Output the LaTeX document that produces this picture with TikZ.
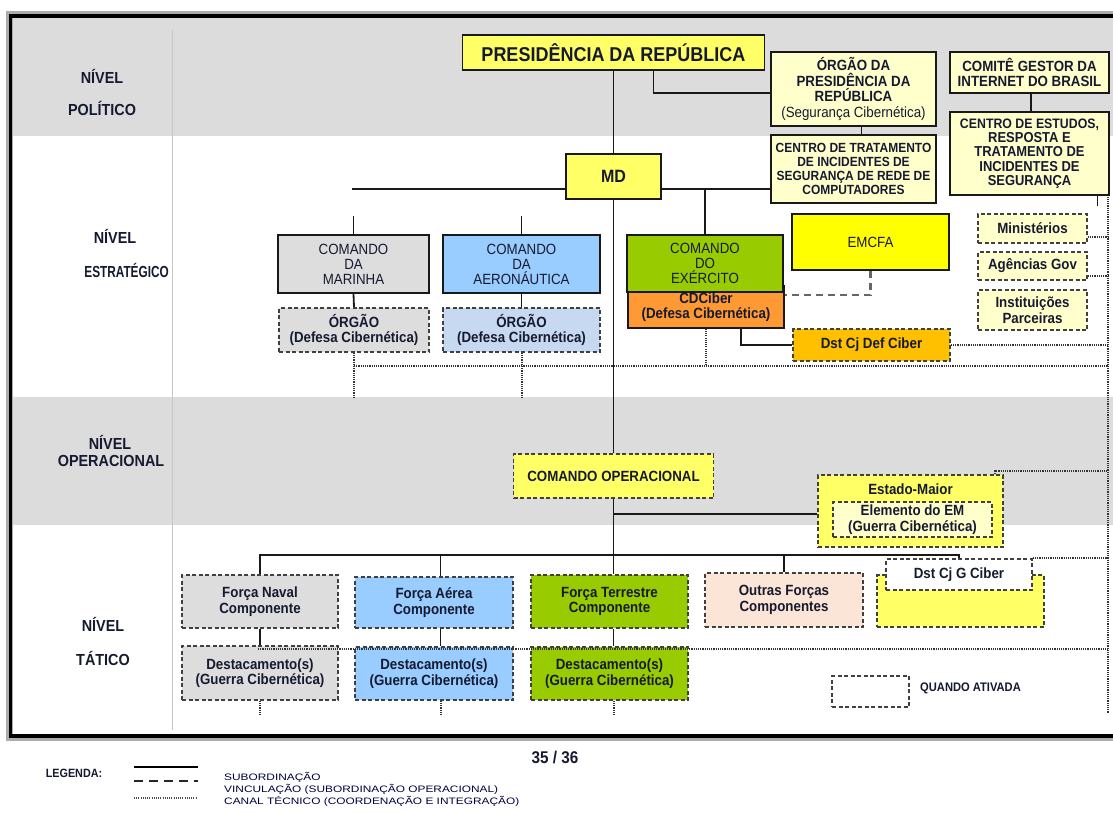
\documentclass[tikz,border=0pt]{standalone}
\usepackage{fontspec}
\setmainfont{Liberation Sans}[FakeStretch=0.9]
\definecolor{txt}{RGB}{22,26,48}
\definecolor{band}{RGB}{220,220,220}
\definecolor{yel}{RGB}{255,255,102}
\definecolor{cream}{RGB}{255,255,204}
\definecolor{lgray}{RGB}{221,221,221}
\definecolor{lblue}{RGB}{153,204,255}
\definecolor{pblue}{RGB}{198,217,241}
\definecolor{lgreen}{RGB}{153,204,0}
\definecolor{orng}{RGB}{255,153,51}
\definecolor{amber}{RGB}{255,192,0}
\definecolor{peach}{RGB}{251,229,214}
\definecolor{pureyel}{RGB}{255,255,0}
\pgfdeclarelayer{back}
\pgfdeclarelayer{lines}
\pgfsetlayers{back,lines,main}
\begin{document}
\begin{tikzpicture}[x=1pt,y=-1pt,
  wh/.style 2 args={minimum width=#1pt, minimum height=#2pt},
  bx/.style={draw=black!90, line width=1.4pt, align=center, inner sep=0pt, text=txt, font=\fontsize{14.8}{15.5}\selectfont\bfseries},
  nb/.style={font=\fontsize{14.8}{15}\selectfont},
  dbx/.style={bx, draw=black!75, line width=1.6pt, dash pattern=on 4pt off 2.5pt},
  sub/.style={line width=1.8pt, black!90},
  vinc/.style={line width=2.4pt, black!60, dash pattern=on 7pt off 5pt},
  tech/.style={line width=2pt, black!80, dash pattern=on 1.1pt off 1.1pt},
  lvl/.style={inner sep=0pt, text=txt, font=\fontsize{16}{17}\selectfont\bfseries},
  plain/.style={inner sep=0pt, text=txt},
]
\useasboundingbox (0,0) rectangle (1113,812);

\begin{pgfonlayer}{back}
\fill[white] (0,0) rectangle (1113,812);
\fill[band] (12,18) rectangle (1130,136);
\fill[band] (12,397) rectangle (1130,525);
\draw[gray!45, line width=1pt] (172,30) -- (172,730);
\end{pgfonlayer}

% level labels
\node[lvl] (l1a) at (102,76) {NÍVEL};
\node[lvl] (l1b) at (102,108) {POLÍTICO};
\node[lvl] (l2a) at (115,236) {NÍVEL};
\node[lvl, anchor=east] (l2b) at (169,270) {\scalebox{0.82}[1]{ESTRATÉGICO}};
\node[lvl] (l3a) at (110,442) {NÍVEL};
\node[lvl] (l3b) at (111,461) {OPERACIONAL};
\node[lvl] (l4a) at (103,624) {NÍVEL};
\node[lvl] (l4b) at (103,658) {TÁTICO};

% political level
\node[bx, fill=yel, wh={302}{35}, font=\fontsize{20}{22}\selectfont\bfseries] (pres) at (613.5,52.5) {PRESIDÊNCIA DA REPÚBLICA};
\node[bx, fill=cream, wh={165}{74}] (orgpr) at (853.5,89) {ÓRGÃO DA\\PRESIDÊNCIA DA\\REPÚBLICA\\{\mdseries (Segurança Cibernética)}};
\node[bx, fill=cream, wh={159}{41}] (comite) at (1029.5,72.5) {COMITÊ GESTOR DA\\INTERNET DO BRASIL};
\node[bx, fill=cream, wh={159}{83}, font=\fontsize{14.4}{14.3}\selectfont\bfseries] (cert) at (1029.5,153.5) {{\fontsize{13.7}{14.3}\selectfont CENTRO DE ESTUDOS,}\\RESPOSTA E\\TRATAMENTO DE\\INCIDENTES DE\\SEGURANÇA};
\node[bx, fill=cream, wh={165}{68}, font=\fontsize{13.3}{13.8}\selectfont\bfseries] (ctir) at (853.5,169) {CENTRO DE TRATAMENTO\\DE INCIDENTES DE\\SEGURANÇA DE REDE DE\\COMPUTADORES};

% strategic level
\node[bx, fill=yel, wh={95}{45}, font=\fontsize{17.8}{19}\selectfont\bfseries] (md) at (613.5,176.5) {MD};
\node[bx, nb, fill=lgray, wh={151}{58}] (mar) at (353.5,264) {COMANDO\\DA\\MARINHA};
\node[bx, nb, fill=lblue, wh={157}{58}] (aer) at (521.5,264) {COMANDO\\DA\\AERONÁUTICA};
\node[bx, fill=orng, wh={156}{42}] (cdc) at (706,307) {CDCiber\\(Defesa Cibernética)};
\node[bx, nb, fill=lgreen, wh={156}{57}] (exc) at (705,263.5) {COMANDO\\DO\\EXÉRCITO};
\node[bx, nb, fill=pureyel, wh={157}{56}] (emcfa) at (870.5,242) {EMCFA};
\node[dbx, fill=amber, wh={157}{32}] (dstdef) at (871.5,345) {Dst Cj Def Ciber};
\node[dbx, fill=cream, wh={109}{29}] (mini) at (1032.5,228.5) {Ministérios};
\node[dbx, fill=cream, wh={109}{28}] (agen) at (1032.5,266) {Agências Gov};
\node[dbx, fill=cream, wh={109}{40}] (inst) at (1032.5,310) {Instituições\\Parceiras};
\node[dbx, fill=lgray, wh={150}{44}] (orgm) at (354,330) {ÓRGÃO\\(Defesa Cibernética)};
\node[dbx, fill=pblue, wh={157}{44}] (orga) at (521.5,330) {ÓRGÃO\\(Defesa Cibernética)};

% operational level
\node[dbx, fill=yel, wh={200}{44}] (cop) at (613.5,476) {COMANDO OPERACIONAL};
\node[dbx, fill=yel, wh={185}{72}] (em) at (910.5,511) {};
\node[plain, font=\fontsize{14.8}{15}\selectfont\bfseries] (emt) at (910.5,489) {Estado-Maior};
\node[dbx, fill=cream, wh={159}{35}] (emel) at (912.5,519.5) {Elemento do EM\\(Guerra Cibernética)};

% tactical level
\node[dbx, fill=lgray, wh={156}{53}] (fnav) at (260,601.5) {Força Naval\\Componente};
\node[dbx, fill=lblue, wh={158}{51}] (faer) at (434,602.5) {Força Aérea\\Componente};
\node[dbx, fill=lgreen, wh={157}{53}] (fter) at (609.5,601.5) {Força Terrestre\\Componente};
\node[dbx, fill=peach, wh={158}{54}] (outr) at (784,600) {Outras Forças\\Componentes};
\node[dbx, fill=yel, wh={167}{52}] (apoio) at (960.5,601) {};
\node[dbx, fill=white, wh={146}{31}] (dstg) at (959,574.5) {Dst Cj G Ciber};
\node[dbx, fill=lgray, wh={156}{54}] (dnav) at (260,673) {Destacamento(s)\\(Guerra Cibernética)};
\node[dbx, fill=lblue, wh={158}{53}] (daer) at (434,673.5) {Destacamento(s)\\(Guerra Cibernética)};
\node[dbx, fill=lgreen, wh={157}{53}] (dter) at (609.5,673.5) {Destacamento(s)\\(Guerra Cibernética)};
\node[dbx, fill=white, wh={77}{31}] (qa) at (870.5,691.5) {};
\node[plain, anchor=west, font=\fontsize{12.4}{13}\selectfont\bfseries] (qat) at (920,688) {QUANDO ATIVADA};

% coordinates
\coordinate (hl) at (352,189);
\coordinate (bus) at (613.5,555);
\coordinate (eml) at (613.5,514);
\coordinate (rt) at (1108,190);
\coordinate (rb) at (1108,713);
\coordinate (d1) at (354,366);
\coordinate (d2) at (258,649);

\begin{pgfonlayer}{lines}
% subordination
\draw[sub] (pres.south) -- (md.north);
\draw[sub] (md.south) -- (cop.north);
\draw[sub] (cop.south) -- (bus);
\draw[sub] ([xshift=40pt]pres.south) |- ([yshift=-4pt]orgpr.west);
\draw[sub] ([xshift=8pt]orgpr.south) -- ([xshift=8pt]ctir.north);
\draw[sub] ([xshift=1.5pt]comite.south) -- ([xshift=1.5pt]cert.north);
\draw[sub] ([xshift=68pt]cert.south) -- ++(0,10);
\draw[sub] (hl) -- (hl -| ctir.west);
\draw[sub] (exc.north) -- (exc.north |- hl);
\draw[sub] (mar.north) -- ++(0,-18);
\draw[sub] (aer.north) -- ++(0,-18);
\draw[sub] (mar.south) -- (orgm.north);
\draw[sub] (aer.south) -- (orga.north);
\draw[sub] ([xshift=35pt]cdc.south) |- (dstdef.west);
\draw[sub] (eml) -- (eml -| em.west);
\draw[sub] (fnav.north) -- (fnav.north |- bus) -- (bus -| dstg.north) -- (dstg.north);
\draw[sub] ([xshift=6.5pt]faer.north) -- ([xshift=6.5pt]faer.north |- bus);
\draw[sub] (fter.north -| bus) -- (bus);
\draw[sub] (outr.north) -- (outr.north |- bus);
\draw[sub] (fnav.south) -- (dnav.north);
\draw[sub] ([xshift=6.5pt]faer.south) -- ([xshift=6.5pt]daer.north);
\draw[sub] (fter.south -| bus) -- (dter.north -| bus);
% vinculation
\draw[vinc] (emcfa.south) |- ([yshift=12pt]cdc.east);
% technical channel
\draw[tech] (rt) -- (rb);
\draw[tech] ([yshift=-8pt]mini.east) -- ([yshift=-8pt]mini.east -| rt);
\draw[tech] ([yshift=-10pt]agen.east) -- ([yshift=-10pt]agen.east -| rt);
\draw[tech] (dstdef.east) -- (dstdef.east -| rt);
\draw[tech] (d1) -- (d1 -| rt);
\draw[tech] (orgm.south) -- ++(0,46);
\draw[tech] (orga.south) -- ++(0,46);
\draw[tech] (cdc.south) -- (cdc.south |- d1);
\draw[tech] ([xshift=-9pt]em.north east) |- ([yshift=3pt]em.north east -| rt);
\draw[tech] (dstg.north east) -- (dstg.north east -| rt);
\draw[tech] (dnav.south) -- ++(0,15);
\draw[tech] ([xshift=6.5pt]daer.south) -- ++(0,15);
\draw[tech] (dter.south -| bus) -- ++(0,15);
\end{pgfonlayer}
\draw[tech] (d2) -- (d2 -| rt);

% frame
\draw[line width=7pt, gray!65] (9,14.5) rectangle (1135,737.5);
\draw[line width=3.5pt, black] (10.5,16) rectangle (1135,736);

% legend
\node[plain, font=\fontsize{17}{19}\selectfont\bfseries] (pg) at (555,757) {35 / 36};
\node[plain, font=\fontsize{12}{13}\selectfont\bfseries] (leg) at (74,773) {LEGENDA:};
\coordinate (ls1) at (134,767);
\coordinate (ls2) at (134,781);
\coordinate (ls3) at (134,798);
\draw[line width=2pt, black] (ls1) -- ++(64,0);
\draw[line width=2pt, black!85, dash pattern=on 9pt off 6pt] (ls2) -- ++(64,0);
\draw[line width=1.6pt, black!70, dash pattern=on 1pt off 1.2pt] (ls3) -- ++(62,0);
\node[plain, anchor=west, font=\fontsize{11}{12}\selectfont, text=black!75!blue] (t1) at (224,777) {\scalebox{1.2}[0.85]{SUBORDINAÇÃO}};
\node[plain, anchor=west, font=\fontsize{11}{12}\selectfont, text=black!75!blue] (t2) at (224,789) {\scalebox{1.2}[0.85]{VINCULAÇÃO (SUBORDINAÇÃO OPERACIONAL)}};
\node[plain, anchor=west, font=\fontsize{11}{12}\selectfont, text=black!75!blue] (t3) at (224,801) {\scalebox{1.2}[0.85]{CANAL TÉCNICO (COORDENAÇÃO E INTEGRAÇÃO)}};
\end{tikzpicture}
\end{document}
